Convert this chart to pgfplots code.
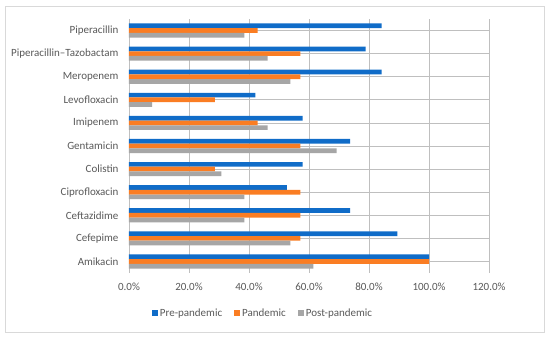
\documentclass[border=0pt]{standalone}
\usepackage{pgfplots}
\pgfplotsset{compat=1.18}
\usepackage{fontspec}
\setmainfont{Carlito}
\definecolor{cblue}{RGB}{16,108,200}
\definecolor{corange}{RGB}{250,125,35}
\definecolor{cgray}{RGB}{166,166,166}
\definecolor{grid}{RGB}{217,217,217}
\definecolor{txt}{RGB}{89,89,89}
\begin{document}
\begin{tikzpicture}[x=1pt,y=1pt]
\fill[white] (0,0) rectangle (550,337);
\draw[grid,line width=0.8pt] (5,5) rectangle (544,331);
\begin{axis}[
  at={(129pt,64pt)}, anchor=south west,
  scale only axis, width=360pt, height=254pt,
  xbar, bar width=4.7pt,
  xmin=0, xmax=120, ymin=-0.5, ymax=10.5,
  xtick={0,20,...,120},
  xticklabel={\pgfmathprintnumber[fixed,fixed zerofill,precision=1]{\tick}\%},
  /pgf/number format/assume math mode=true,
  ytick={0,...,10},
  yticklabels={Amikacin,Cefepime,Ceftazidime,Ciprofloxacin,Colistin,Gentamicin,Imipenem,Levofloxacin,Meropenem,Piperacillin--Tazobactam,Piperacillin},
  xmajorgrids, grid style={grid, line width=0.8pt},
  axis line style={draw=none},
  major tick length=0pt,
  tick label style={font=\fontsize{11}{13}\selectfont, text=txt},
  xticklabel style={yshift=-6pt},
  yticklabel style={xshift=-7pt},
  legend style={at={(134pt,-40pt)}, anchor=center, draw=none, fill=none,
    legend columns=-1, font=\fontsize{11}{13}\selectfont, text=txt,
    /tikz/every even column/.append style={column sep=10pt}},
  legend image code/.code={\fill[#1] (3pt,-3pt) rectangle (9pt,3pt);},
  clip=false,
]
\addplot[fill=cblue, draw=none, bar shift=4.7pt] coordinates {
(100,0) (89.5,1) (73.7,2) (52.6,3) (57.9,4) (73.7,5) (57.9,6) (42.1,7) (84.2,8) (78.9,9) (84.2,10)};
\addplot[fill=corange, draw=none, bar shift=0pt] coordinates {
(100,0) (57.1,1) (57.1,2) (57.1,3) (28.6,4) (57.1,5) (42.9,6) (28.6,7) (57.1,8) (57.1,9) (42.9,10)};
\addplot[fill=cgray, draw=none, bar shift=-4.7pt] coordinates {
(61.5,0) (53.8,1) (38.5,2) (38.5,3) (30.8,4) (69.2,5) (46.2,6) (7.7,7) (53.8,8) (46.2,9) (38.5,10)};
\legend{Pre-pandemic,Pandemic,Post-pandemic}
\end{axis}
\end{tikzpicture}
\end{document}
